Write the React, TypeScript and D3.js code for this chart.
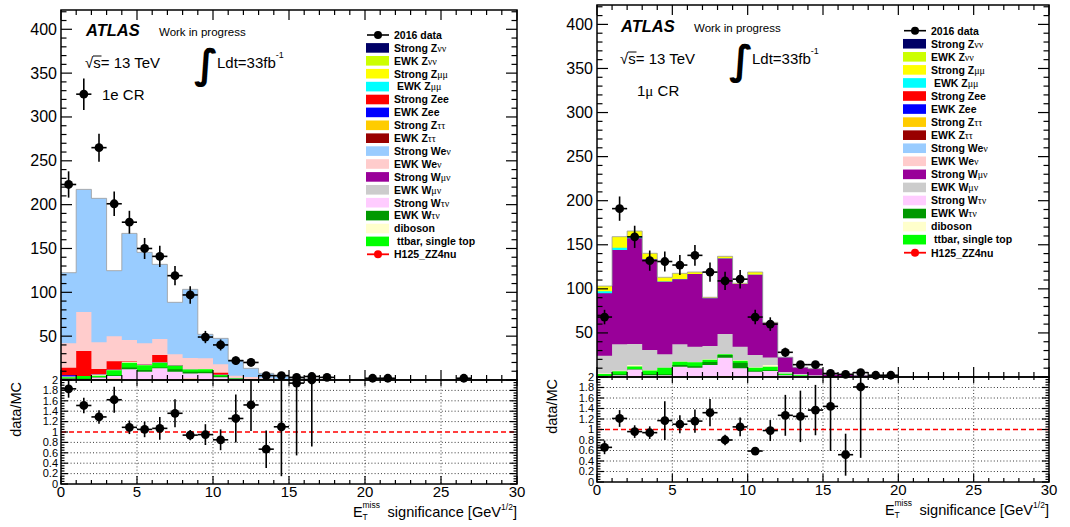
import React from 'react';
import * as d3 from 'd3';

const FONT = "'Liberation Sans', Arial, Helvetica, sans-serif";
const GREEK = "'Liberation Serif', 'DejaVu Serif', serif";
const NBINS = 30;
const X_MAX = 30;
const Y_MAX = 422;
const R_MAX = 2;

const xTickValues = [0, 5, 10, 15, 20, 25, 30];
const xTickLabels = ['0', '5', '10', '15', '20', '25', '30'];
const yMainTickValues = [50, 100, 150, 200, 250, 300, 350, 400];
const ratioTickValues = [0, 0.2, 0.4, 0.6, 0.8, 1, 1.2, 1.4, 1.6, 1.8, 2];
const ratioTickLabels = ['0', '0.2', '0.4', '0.6', '0.8', '1', '1.2', '1.4', '1.6', '1.8', '2'];
const gridXValues = [5, 10, 15, 20, 25];
const gridYValues = [0.2, 0.4, 0.6, 0.8, 1.2, 1.4, 1.6, 1.8];

// stack order, bottom -> top
const componentNames = [
  'Strong Ztt', 'Strong Wtn', 'EWK Wtn', 'ttbar', 'diboson', 'EWK Ztt', 'EWK Zee', 'Strong Zee',
  'EWK Wen', 'Strong Wen', 'EWK Wmn', 'Strong Wmn', 'EWK Zmm', 'Strong Zmm', 'EWK Znn', 'Strong Znn',
];
const componentColors = [
  '#ffcc00', '#ffccff', '#009900', '#00ff00', '#ffffcc', '#990000', '#0000ff', '#ff0000',
  '#ffcccc', '#99ccff', '#cccccc', '#990099', '#00ffff', '#ffff00', '#ccff00', '#000066',
];

// ---------- 1e CR ----------
const eZttS = [0, 0, 0.3, 1.5, 0.3, 0.3, 0.3, 0.3, 1.5, 0.3, 0.2];
const eWtnS = [1.5, 0.5, 2.5, 3, 12, 9, 13, 9, 6, 7.5, 3, 1, 0.5, 0.3, 0.2];
const eWtnE = [0.5, 1, 0.5, 1, 2, 2, 1, 2.9, 2, 1.5, 1, 0.3];
const eTtbar = [1, 3, 1.5, 5.5, 5.5, 5.5, 5.5, 4, 2.5, 3, 1.5, 0.5, 0.3, 0.5, 0.2];
const eDiboson = [1, 0, 1.5, 0.8, 0.8, 0.5, 0.2, 0.3, 0.2, 0.2, 0.3, 0.2];
const eZttE: number[] = [];
const eZeeE = [1.5];
const eZeeS = [8.5, 28.5, 6.2, 9.5, 0.4, 0.5, 8.5, 0.5, 0.3, 0, 2.4, 0.3];
const eWenE = [28, 44.5, 30.5, 28.7, 24.5, 24, 18.3, 12.3, 12.5, 12.3, 9.5, 2.5, 2.5, 1.3, 0.6, 0.3];
const eWenS = [80.4, 139.9, 164.2, 74.7, 121.7, 103.8, 85.1, 59.3, 78.4, 27.3, 29.6, 18, 10, 5.5, 3.5, 1.2, 1.5, 0.5];
const eWmnE: number[] = [];
const eWmnS: number[] = [];
const eZmmE: number[] = [];
const eZmmS: number[] = [];
const eZnnE: number[] = [];
const eZnnS: number[] = [];

const eData = [223, 326, 265, 201, 180, 150, 141, 119, 97, 49, 40, 22, 20, 5, 5, 3, 4, 3, 0, 0, 2, 2, 0, 0, 0, 0, 2, 0, 0, 0];
const eDataErr = [15, 18, 16, 14, 13, 12, 12, 11, 10, 7, 6.3, 4.7, 4.5, 2.2, 2.2, 1.7, 2, 1.7, 0, 0, 1.4, 1.4, 0, 0, 0, 0, 1.4, 0, 0, 0];
const eRatio = [1.83, 1.51, 1.29, 1.62, 1.09, 1.05, 1.07, 1.36, 0.94, 0.95, 0.85, 1.26, 1.52, 0.67, 1.1, 1.94, 2.0];
const eRatioErr = [0.17, 0.15, 0.13, 0.25, 0.13, 0.15, 0.22, 0.27, 0.1, 0.2, 0.2, 0.46, 0.5, 0.36, 0.95, 1.39, 1.28];

// ---------- 1mu CR ----------
const mZttS = [0, 0, 0.5, 0, 0.5, 0.3, 0.3, 0.5, 1, 0.3, 0.5, 0.7];
const mWtnS = [1, 2, 8, 2, 1.5, 11.4, 10.3, 13.1, 20.9, 9.5, 5.5, 6, 2, 1, 0.5];
const mWtnE = [0.5, 1, 0.5, 1.5, 1, 2, 1.5, 3.5, 3, 6.5, 1, 1, 0.3];
const mTtbar = [2, 3.5, 3, 4, 7.6, 3.7, 4.5, 2.6, 1, 2.2, 3.5, 4, 1.5, 1, 0.5];
const mDiboson = [0.5, 0.5, 1.6, 0.4, 0, 0.3, 0.5, 0.3, 0, 0.8, 0.5, 1.9];
const mZttE: number[] = [];
const mZeeE: number[] = [];
const mZeeS: number[] = [];
const mWenE: number[] = [];
const mWenS: number[] = [];
const mWmnE = [20.2, 30.1, 23.8, 22.7, 15.1, 19.4, 17.3, 15.2, 22.9, 15.1, 14, 8.4, 2, 1.5, 1, 0.3, 0.3];
const mWmnS = [70.7, 106.9, 119.9, 102.9, 82.4, 73.7, 82.4, 54.1, 85.5, 71.2, 90.9, 39.6, 16.7, 7.5, 7.5, 2.7, 2.7, 2, 0.8, 0.4];
const mZmmE = [2.5, 2.7, 1.9, 0.5, 0.3, 0.3];
const mZmmS = [5.8, 12.5, 6.4, 6.3, 4.7, 6.5, 2.3, 1.1, 2.6, 0.7, 3.2, 0.4];
const mZnnE: number[] = [];
const mZnnS: number[] = [];

const mData = [68, 191, 159, 132, 131, 127, 138, 119, 109, 111, 68, 60, 28, 14, 14, 4, 3, 5, 2, 2];
const mDataErr = [8.2, 13.8, 12.6, 11.5, 11.4, 11.3, 11.7, 10.9, 10.4, 10.5, 8.2, 7.7, 5.3, 3.7, 3.7, 2, 1.7, 2.2, 1.4, 1.4];
const mRatio = [0.66, 1.21, 0.96, 0.94, 1.17, 1.1, 1.16, 1.32, 0.8, 1.05, 0.59, 0.98, 1.27, 1.25, 1.37, 1.44, 0.52, 1.81];
const mRatioErr = [0.13, 0.16, 0.12, 0.12, 0.37, 0.17, 0.22, 0.26, 0.1, 0.18, 0.06, 0.2, 0.39, 0.49, 0.48, 0.85, 0.4, 1.35];

const eComponents = [eZttS, eWtnS, eWtnE, eTtbar, eDiboson, eZttE, eZeeE, eZeeS, eWenE, eWenS, eWmnE, eWmnS, eZmmE, eZmmS, eZnnE, eZnnS];
const mComponents = [mZttS, mWtnS, mWtnE, mTtbar, mDiboson, mZttE, mZeeE, mZeeS, mWenE, mWenS, mWmnE, mWmnS, mZmmE, mZmmS, mZnnE, mZnnS];

// legend: [text, isGreek]
type Seg = [string, boolean];
const legendEntries: { seg: Seg[]; kind: string; comp?: string }[] = [
  { seg: [['2016 data', false]], kind: 'data' },
  { seg: [['Strong Z', false], ['νν', true]], kind: 'box', comp: 'Strong Znn' },
  { seg: [['EWK Z', false], ['νν', true]], kind: 'box', comp: 'EWK Znn' },
  { seg: [['Strong Z', false], ['μμ', true]], kind: 'box', comp: 'Strong Zmm' },
  { seg: [['\u00a0EWK Z', false], ['μμ', true]], kind: 'box', comp: 'EWK Zmm' },
  { seg: [['Strong Zee', false]], kind: 'box', comp: 'Strong Zee' },
  { seg: [['EWK Zee', false]], kind: 'box', comp: 'EWK Zee' },
  { seg: [['Strong Z', false], ['ττ', true]], kind: 'box', comp: 'Strong Ztt' },
  { seg: [['EWK Z', false], ['ττ', true]], kind: 'box', comp: 'EWK Ztt' },
  { seg: [['Strong We', false], ['ν', true]], kind: 'box', comp: 'Strong Wen' },
  { seg: [['EWK We', false], ['ν', true]], kind: 'box', comp: 'EWK Wen' },
  { seg: [['Strong W', false], ['μν', true]], kind: 'box', comp: 'Strong Wmn' },
  { seg: [['EWK W', false], ['μν', true]], kind: 'box', comp: 'EWK Wmn' },
  { seg: [['Strong W', false], ['τν', true]], kind: 'box', comp: 'Strong Wtn' },
  { seg: [['EWK W', false], ['τν', true]], kind: 'box', comp: 'EWK Wtn' },
  { seg: [['diboson', false]], kind: 'box', comp: 'diboson' },
  { seg: [['\u00a0ttbar, single top', false]], kind: 'box', comp: 'ttbar' },
  { seg: [['H125_ZZ4nu', false]], kind: 'sig' },
];

type Layout = {
  x0: number; x1: number; top: number; mid: number; bottom: number;
  ax: number; ay: number; lx: number; ly: number; lstep: number;
};

const leftLayout: Layout = { x0: 61, x1: 517, top: 10, mid: 380, bottom: 484, ax: 86, ay: 36, lx: 366, ly: 35, lstep: 12.9 };
const rightLayout: Layout = { x0: 597, x1: 1049, top: 5, mid: 377, bottom: 482, ax: 621, ay: 32, lx: 903, ly: 30.7, lstep: 13.06 };

function Panel(props: {
  id: string; L: Layout; comps: number[][]; data: number[]; dataErr: number[];
  ratio: number[]; ratioErr: number[]; region: React.ReactNode;
}) {
  const { id, L, comps, data, dataErr, ratio, ratioErr, region } = props;
  const x = d3.scaleLinear().domain([0, X_MAX]).range([L.x0, L.x1]);
  const y = d3.scaleLinear().domain([0, Y_MAX]).range([L.mid, L.top]);
  const r = d3.scaleLinear().domain([0, R_MAX]).range([L.bottom, L.mid]);
  const bins = d3.range(NBINS);

  const rows = bins.map((i) => {
    const o: Record<string, number> = {};
    componentNames.forEach((n, k) => { o[n] = comps[k][i] ?? 0; });
    return o;
  });
  const stacked = d3.stack<Record<string, number>>().keys(componentNames)(rows);
  const area = d3.area<{ x: number; v: number }>().x((d) => x(d.x)).y0(y(0)).y1((d) => y(d.v));
  const line = d3.line<{ x: number; v: number }>().x((d) => x(d.x)).y((d) => y(d.v));
  const layerPts = stacked.map((s) => {
    const pts: { x: number; v: number }[] = [];
    bins.forEach((i) => { pts.push({ x: i, v: s[i][1] }); pts.push({ x: i + 1, v: s[i][1] }); });
    return pts;
  });
  const layers = stacked
    .map((s, k) => ({ k, d: area(layerPts[k]) as string, color: componentColors[k], empty: comps[k].every((v) => !v) }))
    .filter((l) => !l.empty)
    .reverse();
  const totalLine = line(layerPts[layerPts.length - 1]) as string;

  const stroke = '#000';
  const minorX = d3.range(0, X_MAX + 1, 1);
  const minorYMain = d3.range(0, Y_MAX, 10);
  const minorR = d3.range(0, 2.001, 0.05);

  const dataPts = bins.filter((i) => (data[i] ?? 0) > 0);
  const ratioPts = ratio.map((v, i) => ({ v, i, e: ratioErr[i] }));

  const fs = { fontFamily: FONT };
  const { ax, ay } = L;

  return (
    <g>
      <defs>
        <clipPath id={`main-${id}`}>
          <rect x={L.x0} y={L.top} width={L.x1 - L.x0} height={L.mid - L.top} />
        </clipPath>
      </defs>
      {/* stack */}
      <g clipPath={`url(#main-${id})`}>
        {layers.map((l) => (
          <path key={l.k} d={l.d} fill={l.color} stroke="none" />
        ))}
        <path d={totalLine} fill="none" stroke="#9a9a9a" strokeWidth={0.8} />
      </g>

      {/* ratio grid */}
      {gridYValues.map((v) => (
        <line key={`gy${v}`} x1={L.x0} x2={L.x1} y1={r(v)} y2={r(v)} stroke="#222" strokeWidth={0.9} strokeDasharray="1,2.2" />
      ))}
      {gridXValues.map((v) => (
        <line key={`gx${v}`} x1={x(v)} x2={x(v)} y1={L.mid} y2={L.bottom} stroke="#222" strokeWidth={0.9} strokeDasharray="1,2.2" />
      ))}
      <line x1={L.x0} x2={L.x1} y1={r(1)} y2={r(1)} stroke="#ff0000" strokeWidth={1.6} strokeDasharray="5,3" />

      {/* frames */}
      <rect x={L.x0} y={L.top} width={L.x1 - L.x0} height={L.mid - L.top} fill="none" stroke={stroke} strokeWidth={1.5} />
      <rect x={L.x0} y={L.mid} width={L.x1 - L.x0} height={L.bottom - L.mid} fill="none" stroke={stroke} strokeWidth={1.5} />

      {/* main ticks */}
      {minorYMain.map((v) => {
        const len = v % 50 === 0 ? 11 : 5.5;
        return (
          <g key={`my${v}`}>
            <line x1={L.x0} x2={L.x0 + len} y1={y(v)} y2={y(v)} stroke={stroke} strokeWidth={1.2} />
            <line x1={L.x1} x2={L.x1 - len} y1={y(v)} y2={y(v)} stroke={stroke} strokeWidth={1.2} />
          </g>
        );
      })}
      {minorX.map((v) => {
        const len = v % 5 === 0 ? 10 : 5;
        return (
          <g key={`mx${v}`}>
            <line x1={x(v)} x2={x(v)} y1={L.top} y2={L.top + len} stroke={stroke} strokeWidth={1.2} />
            <line x1={x(v)} x2={x(v)} y1={L.mid} y2={L.mid - len} stroke={stroke} strokeWidth={1.2} />
            <line x1={x(v)} x2={x(v)} y1={L.bottom} y2={L.bottom - (v % 5 === 0 ? 8 : 4)} stroke={stroke} strokeWidth={1.2} />
            <line x1={x(v)} x2={x(v)} y1={L.mid} y2={L.mid + (v % 5 === 0 ? 6 : 3)} stroke={stroke} strokeWidth={1.2} />
          </g>
        );
      })}
      {minorR.map((v, i) => {
        const len = i % 4 === 0 ? 7 : 3.5;
        return (
          <g key={`rt${i}`}>
            <line x1={L.x0} x2={L.x0 + len} y1={r(v)} y2={r(v)} stroke={stroke} strokeWidth={1.2} />
            <line x1={L.x1} x2={L.x1 - len} y1={r(v)} y2={r(v)} stroke={stroke} strokeWidth={1.2} />
          </g>
        );
      })}

      {/* tick labels */}
      {yMainTickValues.map((v) => (
        <text key={`yl${v}`} x={L.x0 - 4} y={y(v) + 5.5} textAnchor="end" fontSize={16} {...fs}>{v}</text>
      ))}
      {ratioTickValues.map((v, i) => (
        <text key={`rl${i}`} x={L.x0 - 3} y={r(v) + 3.8} textAnchor="end" fontSize={11} {...fs}>{ratioTickLabels[i]}</text>
      ))}
      {xTickValues.map((v, i) => (
        <text key={`xl${v}`} x={x(v)} y={L.bottom + 13} textAnchor="middle" fontSize={15} {...fs}>{xTickLabels[i]}</text>
      ))}

      {/* axis titles */}
      <text transform={`translate(${L.x0 - 40},${L.mid + 2}) rotate(-90)`} textAnchor="end" fontSize={14.5} {...fs}>data/MC</text>
      <text x={L.x1 - 164} y={L.bottom + 32.5} fontSize={14.5} {...fs}>E</text>
      <text x={L.x1 - 154.5} y={L.bottom + 35.5} fontSize={8.5} {...fs}>T</text>
      <text x={L.x1 - 154.5} y={L.bottom + 24} fontSize={8.5} {...fs}>miss</text>
      <text x={L.x1} y={L.bottom + 32.5} textAnchor="end" fontSize={14.6} {...fs}>
        significance [GeV<tspan fontSize={8.5} dy={-7}>1/2</tspan><tspan dy={7}>]</tspan>
      </text>

      {/* data points main */}
      {dataPts.map((i) => {
        const cx = x(i + 0.5);
        const cy = y(data[i]);
        return (
          <g key={`d${i}`}>
            <line x1={cx} x2={cx} y1={y(data[i] - dataErr[i])} y2={y(data[i] + dataErr[i])} stroke="#000" strokeWidth={1.6} />
            <line x1={x(i)} x2={x(i + 1)} y1={cy} y2={cy} stroke="#000" strokeWidth={1.6} />
            <circle cx={cx} cy={cy} r={4.4} fill="#000" />
          </g>
        );
      })}

      {/* ratio points */}
      {ratioPts.map(({ v, i, e }) => {
        const cx = x(i + 0.5);
        const cy = r(v);
        return (
          <g key={`r${i}`}>
            <line x1={cx} x2={cx} y1={r(Math.max(0, v - e))} y2={r(Math.min(R_MAX, v + e))} stroke="#000" strokeWidth={1.6} />
            <line x1={x(i)} x2={x(i + 1)} y1={cy} y2={cy} stroke="#000" strokeWidth={1.6} />
            <circle cx={cx} cy={cy} r={4.4} fill="#000" />
          </g>
        );
      })}

      {/* annotations */}
      <text x={ax} y={ay} fontSize={16.5} fontWeight="bold" fontStyle="italic" {...fs}>ATLAS</text>
      <text x={ax + 73} y={ay} fontSize={11.5} {...fs}>Work in progress</text>
      <text x={ax - 1} y={ay + 32} fontSize={15} {...fs}>√s= 13 TeV</text>
      <line x1={ax + 7} x2={ax + 15.5} y1={ay + 20} y2={ay + 20} stroke="#000" strokeWidth={1} />
      <text x={ax + 108} y={ay + 42} fontSize={40} fontWeight="bold" fontFamily="'DejaVu Sans', sans-serif">∫</text>
      <text x={ax + 131} y={ay + 32} fontSize={15} {...fs}>
        Ldt=33fb<tspan fontSize={9} dy={-10}>-1</tspan>
      </text>
      <text x={ax + 16} y={ay + 64} fontSize={15} {...fs}>{region}</text>

      {/* legend */}
      {legendEntries.map((le, j) => {
        const cy = L.ly + j * L.lstep;
        const bx = L.lx;
        let sym: React.ReactNode = null;
        if (le.kind === 'box') {
          const col = componentColors[componentNames.indexOf(le.comp as string)];
          sym = <rect x={bx} y={cy - 4.8} width={23} height={9.6} fill={col} />;
        } else if (le.kind === 'data') {
          sym = (
            <g>
              <line x1={bx + 1} x2={bx + 23} y1={cy} y2={cy} stroke="#000" strokeWidth={1.6} />
              <circle cx={bx + 12} cy={cy} r={4} fill="#000" />
            </g>
          );
        } else {
          sym = (
            <g>
              <line x1={bx + 1} x2={bx + 23} y1={cy} y2={cy} stroke="#ff0000" strokeWidth={1.8} />
              <circle cx={bx + 12} cy={cy} r={4} fill="#ff0000" />
            </g>
          );
        }
        return (
          <g key={`lg${j}`}>
            {sym}
            <text x={bx + 28} y={cy + 3.8} fontSize={10.5} fontWeight="bold" {...fs}>
              {le.seg.map(([t, g], k) =>
                g ? (
                  <tspan key={k} fontFamily={GREEK} fontWeight="normal" fontSize={10}>{t}</tspan>
                ) : (
                  <tspan key={k}>{t}</tspan>
                )
              )}
            </text>
          </g>
        );
      })}
    </g>
  );
}

export default function App() {
  return (
    <svg width={1070} height={527} style={{ position: 'absolute', left: 0, top: 0, background: '#fff' }}>
      <rect x={0} y={0} width={1070} height={527} fill="#fff" />
      <Panel id="e" L={leftLayout} comps={eComponents} data={eData} dataErr={eDataErr} ratio={eRatio} ratioErr={eRatioErr} region="1e CR" />
      <Panel id="m" L={rightLayout} comps={mComponents} data={mData} dataErr={mDataErr} ratio={mRatio} ratioErr={mRatioErr} region={<tspan>1<tspan fontFamily={GREEK}>μ</tspan> CR</tspan>} />
    </svg>
  );
}
